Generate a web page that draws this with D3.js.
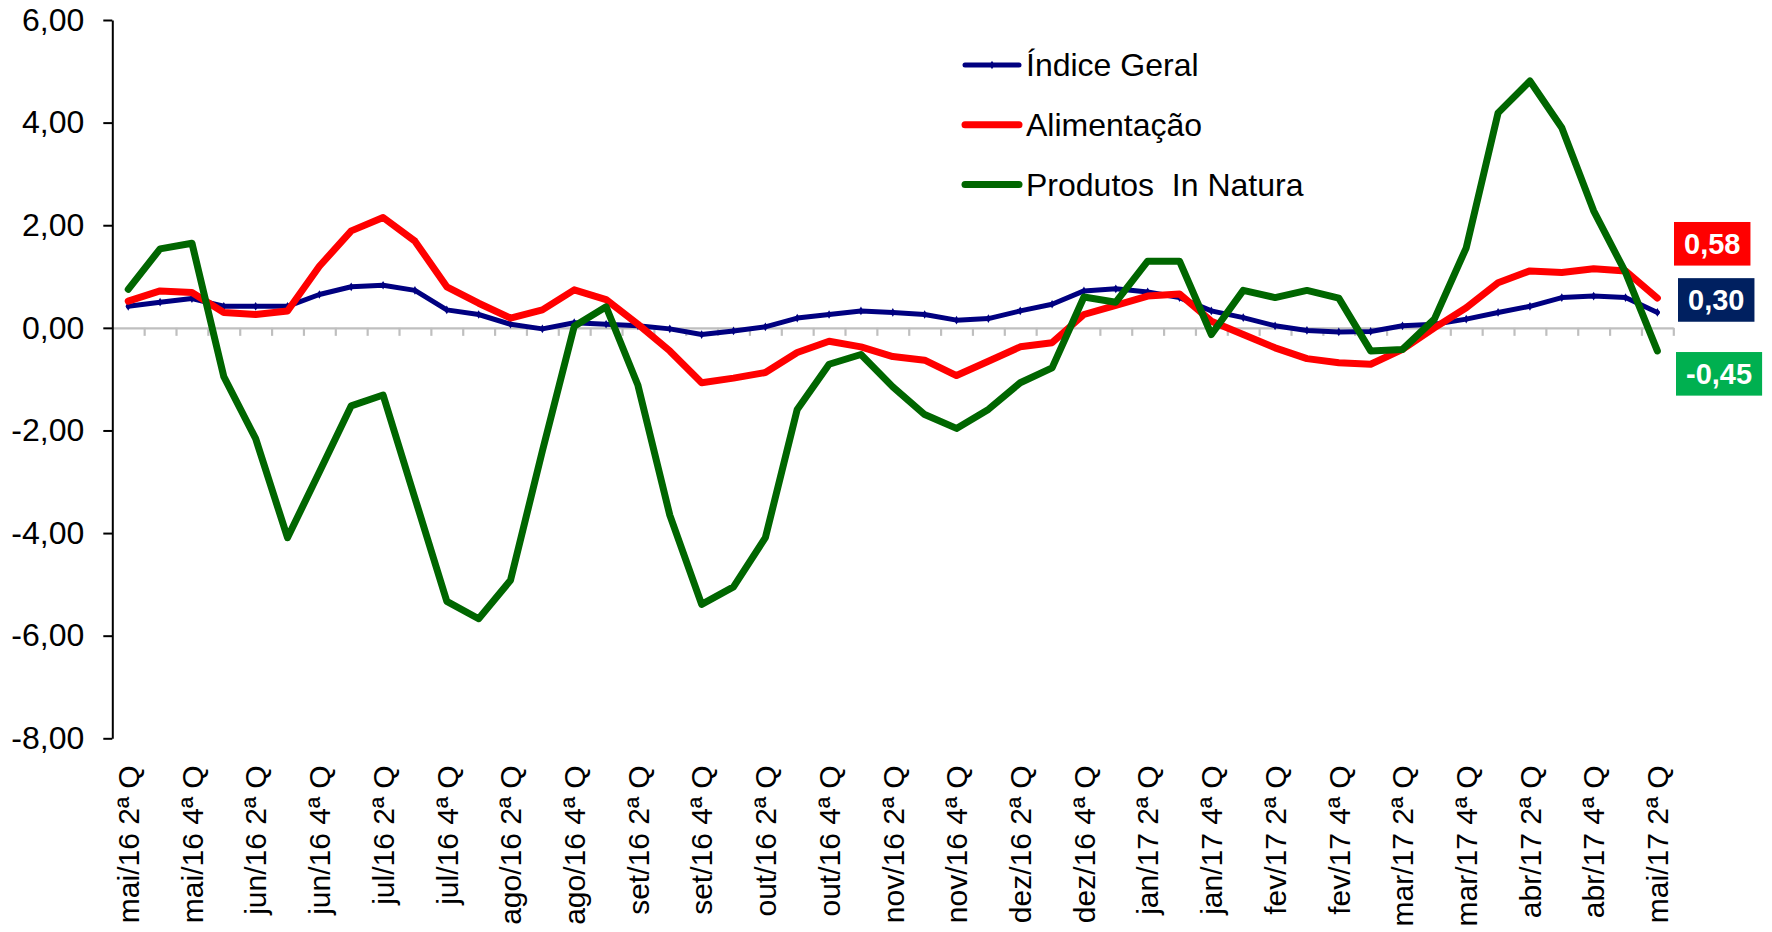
<!DOCTYPE html>
<html><head><meta charset="utf-8">
<script src="https://cdn.jsdelivr.net/npm/d3@7/dist/d3.min.js"></script>
<style>
body{margin:0;background:#fff}
svg{display:block}
text{font-family:"Liberation Sans",Arial,sans-serif}
</style>
</head><body>
<svg id="chart" width="1772" height="932"></svg>
<script>
// ---- data ----
const categories = [
 "mai/16 2ª Q","mai/16 3ª Q","mai/16 4ª Q",
 "jun/16 1ª Q","jun/16 2ª Q","jun/16 3ª Q","jun/16 4ª Q",
 "jul/16 1ª Q","jul/16 2ª Q","jul/16 3ª Q","jul/16 4ª Q",
 "ago/16 1ª Q","ago/16 2ª Q","ago/16 3ª Q","ago/16 4ª Q",
 "set/16 1ª Q","set/16 2ª Q","set/16 3ª Q","set/16 4ª Q",
 "out/16 1ª Q","out/16 2ª Q","out/16 3ª Q","out/16 4ª Q",
 "nov/16 1ª Q","nov/16 2ª Q","nov/16 3ª Q","nov/16 4ª Q",
 "dez/16 1ª Q","dez/16 2ª Q","dez/16 3ª Q","dez/16 4ª Q",
 "jan/17 1ª Q","jan/17 2ª Q","jan/17 3ª Q","jan/17 4ª Q",
 "fev/17 1ª Q","fev/17 2ª Q","fev/17 3ª Q","fev/17 4ª Q",
 "mar/17 1ª Q","mar/17 2ª Q","mar/17 3ª Q","mar/17 4ª Q",
 "abr/17 1ª Q","abr/17 2ª Q","abr/17 3ª Q","abr/17 4ª Q",
 "mai/17 1ª Q","mai/17 2ª Q"
];
const indiceGeral = [
 0.42,0.50,0.57, 0.42,0.42,0.42,0.65, 0.80,0.83,0.73,0.35, 0.26,0.07,-0.02,0.10,
 0.07,0.04,-0.02,-0.13, -0.06,0.02,0.19,0.26, 0.33,0.30,0.26,0.15, 0.18,0.33,0.46,0.72,
 0.76,0.70,0.59,0.33, 0.20,0.04,-0.05,-0.08, -0.07,0.04,0.07,0.17, 0.30,0.42,0.59,0.62,
 0.59,0.30
];
const alimentacao = [
 0.52,0.72,0.69, 0.30,0.26,0.33,1.20, 1.89,2.15,1.69,0.80, 0.48,0.19,0.35,0.74,
 0.55,0.07,-0.45,-1.07, -0.98,-0.87,-0.48,-0.26, -0.37,-0.56,-0.63,-0.93, -0.65,-0.37,-0.29,0.26,
 0.44,0.62,0.66,0.13, -0.13,-0.39,-0.60,-0.68, -0.71,-0.42,0.00,0.39, 0.88,1.11,1.08,1.15,
 1.11,0.58
];
const inNatura = [
 0.75,1.54,1.65, -0.95,-2.16,-4.09,-2.81, -1.52,-1.31,-3.32,-5.33, -5.67,-4.92,-2.40,0.03,
 0.41,-1.12,-3.65,-5.39, -5.05,-4.09,-1.59,-0.71, -0.52,-1.15,-1.69,-1.96, -1.59,-1.07,-0.78,0.60,
 0.50,1.30,1.30,-0.13, 0.73,0.59,0.73,0.58, -0.45,-0.42,0.17,1.56, 4.19,4.81,3.90,2.28,
 1.08,-0.45
];
const seriesNames = ["Índice Geral","Alimentação","Produtos  In Natura"];
const yTickValues = [6,4,2,0,-2,-4,-6,-8];

// ---- layout / style ----
const plot = {left:112.3, right:1673.3, top:20, bottom:738.3};
const colors = {geral:"#000080", alim:"#ff0000", natura:"#006600"};
const fmt = v => v.toFixed(2).replace(".", ",");

const svg = d3.select("#chart");
const x = d3.scaleBand().domain(categories).range([plot.left, plot.right]).padding(0);
const y = d3.scaleLinear().domain([-8, 6]).range([plot.bottom, plot.top]);
const cx = i => x(categories[i]) + x.bandwidth() / 2;

// zero axis (gray) with ticks at category boundaries
const xb = d3.scaleLinear().domain([0, categories.length]).range([plot.left, plot.right]);
const gZero = svg.append("g").attr("transform", `translate(0,${y(0)})`)
  .call(d3.axisBottom(xb).tickValues(d3.range(1, categories.length + 1)).tickSize(8).tickSizeOuter(0).tickFormat(""));
gZero.select(".domain").attr("stroke", "#bfbfbf").attr("stroke-width", 2.2);
gZero.selectAll(".tick line").attr("stroke", "#bfbfbf").attr("stroke-width", 2.2);

// category labels (below plot area)
const gX = svg.append("g").attr("transform", `translate(0,${plot.bottom})`)
  .call(d3.axisBottom(x).tickValues(categories.filter((d, i) => i % 2 === 0)).tickSize(0));
gX.select(".domain").remove();
gX.selectAll(".tick text")
  .attr("transform", "rotate(-90)")
  .attr("x", -27).attr("y", 0).attr("dy", "0.36em")
  .attr("text-anchor", "end")
  .attr("font-size", 30).attr("fill", "#000")
  .style("font-family", '"Liberation Sans",Arial,sans-serif');

// y axis
const gY = svg.append("g").attr("transform", `translate(${plot.left},0)`)
  .call(d3.axisLeft(y).tickValues(yTickValues).tickSize(9).tickPadding(19).tickSizeOuter(0).tickFormat(fmt));
gY.select(".domain").attr("stroke", "#000").attr("stroke-width", 2);
gY.selectAll(".tick line").attr("stroke", "#000").attr("stroke-width", 2);
gY.selectAll(".tick text").attr("font-size", 32).attr("fill", "#000")
  .style("font-family", '"Liberation Sans",Arial,sans-serif');

// lines
const line = d3.line().x((d, i) => cx(i)).y(d => y(d));
const series = [
  {data: indiceGeral, color: colors.geral, w: 5, marker: true},
  {data: alimentacao, color: colors.alim, w: 7},
  {data: inNatura, color: colors.natura, w: 7}
];
series.forEach(s => {
  svg.append("path").datum(s.data).attr("d", line)
    .attr("fill", "none").attr("stroke", s.color).attr("stroke-width", s.w)
    .attr("stroke-linejoin", "round").attr("stroke-linecap", "round");
  if (s.marker) {
    svg.append("g").selectAll("path").data(s.data).join("path")
      .attr("transform", (d, i) => `translate(${cx(i)},${y(d)})`)
      .attr("d", d3.symbol(d3.symbolDiamond, 22))
      .attr("fill", s.color);
  }
});

// legend
const legend = svg.append("g").attr("transform", "translate(965,65)");
series.forEach((s, i) => {
  const g = legend.append("g").attr("transform", `translate(0,${i * 59.7})`);
  g.append("line").attr("x1", 0).attr("x2", 54).attr("stroke", s.color)
    .attr("stroke-width", s.w).attr("stroke-linecap", "round");
  if (s.marker) g.append("path").attr("transform", "translate(27,0)")
    .attr("d", d3.symbol(d3.symbolDiamond, 22)).attr("fill", s.color);
  g.append("text").attr("x", 61).attr("dy", "0.35em").attr("font-size", 32)
    .attr("fill", "#000").style("white-space", "pre").attr("xml:space", "preserve")
    .text(seriesNames[i]);
});

// end-value labels
const endLabels = [
  {value: alimentacao[alimentacao.length - 1], fill: "#ff0000", dy: -54.3, left: 1674},
  {value: indiceGeral[indiceGeral.length - 1], fill: "#002060", dy: -12.5, left: 1678},
  {value: inNatura[inNatura.length - 1], fill: "#00b050", dy: 22.9, left: 1676}
];
endLabels.forEach(l => {
  const cy = y(l.value) + l.dy;
  const g = svg.append("g");
  const t = g.append("text").attr("y", cy).attr("dy", "0.36em")
    .attr("font-size", 29).attr("font-weight", "bold").attr("fill", "#fff")
    .text(fmt(l.value));
  const w = t.node().getComputedTextLength();
  g.insert("rect", "text").attr("x", l.left).attr("y", cy - 21.8)
    .attr("width", w + 20).attr("height", 43.6).attr("fill", l.fill);
  t.attr("x", l.left + 10);
});
</script>
</body></html>
